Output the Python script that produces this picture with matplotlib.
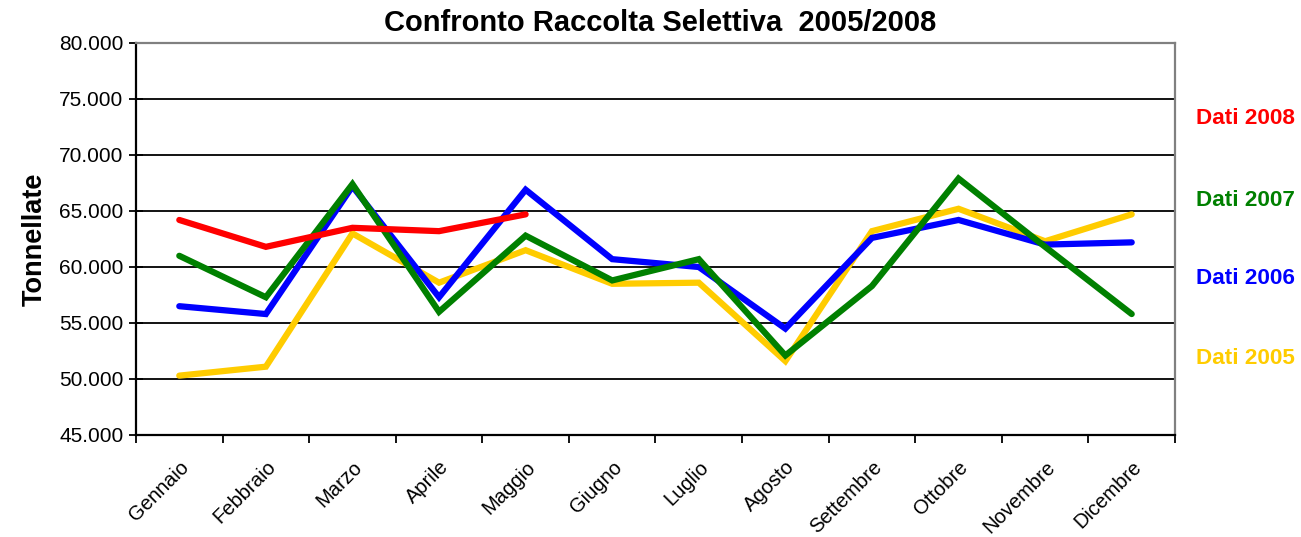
import matplotlib
matplotlib.use("Agg")
import matplotlib.pyplot as plt
from matplotlib.ticker import FuncFormatter, MultipleLocator, FixedLocator

plt.rcParams['font.family'] = ['Liberation Sans', 'DejaVu Sans']

months = ["Gennaio", "Febbraio", "Marzo", "Aprile", "Maggio", "Giugno", "Luglio",
          "Agosto", "Settembre", "Ottobre", "Novembre", "Dicembre"]

dati_2005 = [50300, 51100, 63000, 58600, 61500, 58500, 58600, 51600, 63200, 65200, 62300, 64700]
dati_2006 = [56500, 55800, 67200, 57300, 66900, 60700, 60000, 54500, 62600, 64200, 62000, 62200]
dati_2007 = [61000, 57300, 67400, 56000, 62800, 58800, 60700, 52100, 58300, 67900, 61800, 55800]
dati_2008 = [64200, 61800, 63500, 63200, 64700]

series = [
    ("Dati 2005", dati_2005, "#FFCC00"),
    ("Dati 2006", dati_2006, "#0000FF"),
    ("Dati 2007", dati_2007, "#008000"),
    ("Dati 2008", dati_2008, "#FF0000"),
]

fig = plt.figure(figsize=(13.01, 5.37), dpi=100)
ax = fig.add_axes([136/1301, (537-435)/537, (1175-136)/1301, (435-43)/537])

for name, vals, col in series:
    ax.plot(range(len(vals)), vals, color=col, lw=4.5, solid_capstyle='round',
            solid_joinstyle='miter', zorder=3)

ax.set_xlim(-0.5, 11.5)
ax.set_ylim(45000, 80000)
ax.yaxis.set_major_locator(MultipleLocator(5000))
ax.yaxis.set_major_formatter(FuncFormatter(lambda v, p: f"{int(v):,}".replace(",", ".")))
ax.grid(axis='y', color='black', lw=1.3, zorder=1)

ax.set_xticks(range(12))
ax.set_xticklabels(months, rotation=45, ha='right', rotation_mode='anchor', fontsize=14.5)
ax.tick_params(axis='x', which='major', length=0, pad=16)
ax.xaxis.set_minor_locator(FixedLocator([i - 0.5 for i in range(13)]))
ax.tick_params(axis='x', which='minor', length=6, width=1.3, direction='out', color='black')
ax.tick_params(axis='y', which='major', direction='inout', length=10, width=1.3, labelsize=15, pad=4)

for s in ['left', 'bottom']:
    ax.spines[s].set_color('black')
    ax.spines[s].set_linewidth(1.6)
for s in ['top', 'right']:
    ax.spines[s].set_color('#808080')
    ax.spines[s].set_linewidth(1.6)

ax.set_ylabel("Tonnellate", fontsize=19.5, fontweight='bold', labelpad=8)
fig.text(660/1301, 1 - 23/537, "Confronto Raccolta Selettiva  2005/2008", ha='center', va='center',
         fontsize=21, fontweight='bold')

label_y = {"Dati 2008": 119, "Dati 2007": 200, "Dati 2006": 278, "Dati 2005": 358}
for name, vals, col in series:
    fig.text(1196/1301, 1 - label_y[name]/537, name, color=col, fontsize=16.2, fontweight='bold',
             ha='left', va='center')

fig.savefig("out.png", dpi=100)
